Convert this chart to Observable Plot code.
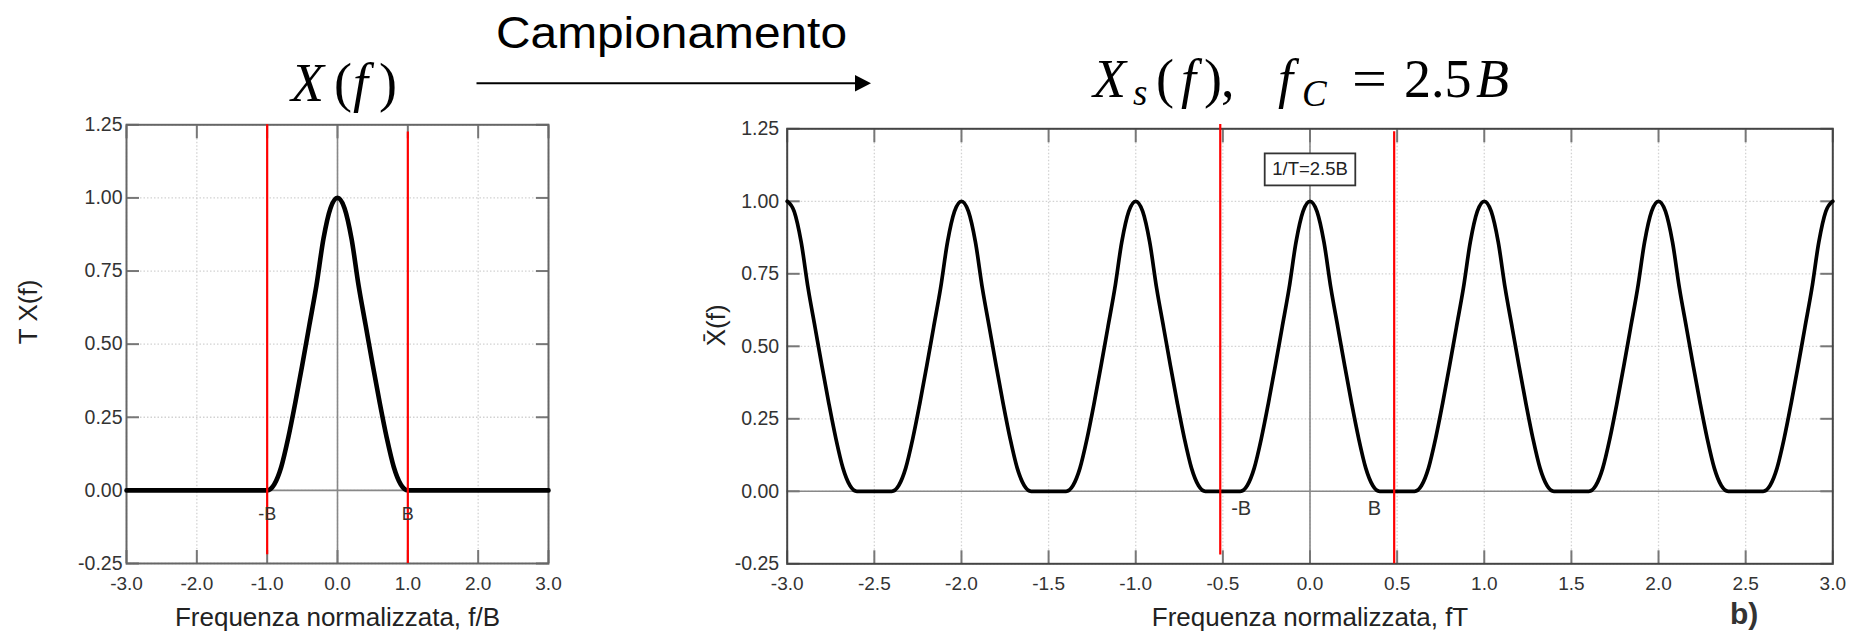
<!DOCTYPE html>
<html>
<head>
<meta charset="utf-8">
<script src="https://cdn.jsdelivr.net/npm/d3@7"></script>
<script src="https://cdn.jsdelivr.net/npm/@observablehq/plot@0.6"></script>
<style>
  html, body { margin: 0; padding: 0; background: #fff; }
  #page { position: relative; width: 1861px; height: 637px; overflow: hidden; background: #fff; }
  #page > svg { position: absolute; top: 0; }
</style>
</head>
<body>
<div id="page"></div>
<script>
// ---------- data ----------
const xTicksLeft  = [-3, -2, -1, 0, 1, 2, 3];
const xTicksRight = [-3, -2.5, -2, -1.5, -1, -0.5, 0, 0.5, 1, 1.5, 2, 2.5, 3];
const yTicks      = [-0.25, 0, 0.25, 0.5, 0.75, 1, 1.25];

// Half profile of one spectral pulse: distance from its peak (units of B) and amplitude
const pulseOffset = [0, 0.1, 0.2, 0.3, 0.4, 0.5, 0.6, 0.7, 0.8, 0.9, 1.0];
const pulseValue  = [1.0, 0.965, 0.86, 0.70, 0.565, 0.43, 0.30, 0.18, 0.08, 0.02, 0];

// Ends of the baseband frequency axis (f/B), where the spectrum is zero
const baseEnds = [-3, 3];

// Sampling: 1/T = 2.5 B, replicas centred on the multiples of 1/T (fT units)
const samplingRate   = 2.5;
const replicaCenters = [-3, -2, -1, 0, 1, 2, 3];

// Red band-edge markers: position, vertical extent, label and label anchor
const leftEdges = [
  {x: -1, top: 1.25,  bottom: -0.22, label: "-B", lx: -1, ly: -0.08},
  {x:  1, top: 1.225, bottom: -0.25, label: "B",  lx:  1, ly: -0.08}
];
const rightEdges = [
  {x: -0.515, top: 1.265, bottom: -0.22, label: "-B", lx: -0.395, ly: -0.06},
  {x:  0.483, top: 1.24,  bottom: -0.25, label: "B",  lx:  0.37,  ly: -0.06}
];
const rateNote = [{x: 0, y: 1.11, text: "1/T=2.5B"}];

const xTitleLeft  = "Frequenza normalizzata, f/B";
const xTitleRight = "Frequenza normalizzata, fT";
const yTitleLeft  = "T X(f)";
const yTitleRight = "X\u0304(f)";

// ---------- derived series ----------
const halfPulse = pulseOffset.map((u, i) => ({u, v: pulseValue[i]}));
const fullPulse = [
  ...halfPulse.slice(1).reverse().map(d => ({u: -d.u, v: d.v})),
  ...halfPulse
];
const leftSeries = [
  {x: baseEnds[0], y: 0},
  ...fullPulse.map(d => ({x: d.u, y: d.v})),
  {x: baseEnds[1], y: 0}
].sort((a, b) => a.x - b.x);

const halfWidth = 1 / samplingRate; // B expressed in fT
const rightSeries = replicaCenters
  .flatMap(c => fullPulse.map(d => ({x: c + d.u * halfWidth, y: d.v})))
  .filter(d => d.x >= -3 - 1e-9 && d.x <= 3 + 1e-9)
  .sort((a, b) => a.x - b.x);

// ---------- shared styling ----------
const SANS = "'Liberation Sans', Arial, Helvetica, sans-serif";
const fmt1 = d => d.toFixed(1);
const fmt2 = d => d.toFixed(2);
const gridStyle = {stroke: "#d2d2d2", strokeOpacity: 1, strokeWidth: 1.3, strokeDasharray: "1.5,2"};
const tickStyle = {tickSize: -13, tickFormat: () => "", label: null, stroke: "#777", strokeWidth: 2};

// Draws a framed box behind each label of a text mark
function boxed(fontSize, padX, boxH) {
  return function (index, scales, values, dimensions, context, next) {
    const g = next(index, scales, values, dimensions, context);
    const ctx = document.createElement("canvas").getContext("2d");
    ctx.font = `${fontSize}px ${SANS}`;
    for (const i of index) {
      const w = ctx.measureText(values.text ? values.text[i] : rateNote[i].text).width;
      const X = values.x[i], Y = values.y[i];
      const r = document.createElementNS("http://www.w3.org/2000/svg", "rect");
      r.setAttribute("x", X - w / 2 - padX);
      r.setAttribute("y", Y - boxH / 2);
      r.setAttribute("width", w + 2 * padX);
      r.setAttribute("height", boxH);
      r.setAttribute("fill", "#fff");
      r.setAttribute("stroke", "#333");
      r.setAttribute("stroke-width", 1.8);
      g.insertBefore(r, g.firstChild);
    }
    return g;
  };
}

function panel({width, margins, xTicks, series, lineWidth, edges, edgeFont, yPad, xTitle, yTitle, yTitleDx, frameColor, extra = []}) {
  return Plot.plot({
    width, height: 637,
    marginLeft: margins[0], marginRight: margins[1], marginTop: margins[2], marginBottom: margins[3],
    x: {domain: [-3, 3]},
    y: {domain: [-0.25, 1.25]},
    style: {fontFamily: SANS, fontSize: "19px", background: "transparent", overflow: "visible", color: "#222"},
    marks: [
      Plot.gridX(xTicks, gridStyle),
      Plot.gridY(yTicks, gridStyle),
      Plot.ruleY([0], {stroke: "#888", strokeWidth: 1.6}),
      Plot.ruleX([0], {stroke: "#888", strokeWidth: 1.6}),
      Plot.axisX(xTicks, {anchor: "bottom", ...tickStyle}),
      Plot.axisX(xTicks, {anchor: "top", ...tickStyle}),
      Plot.axisY(yTicks, {anchor: "left", ...tickStyle}),
      Plot.axisY(yTicks, {anchor: "right", ...tickStyle}),
      Plot.axisX(xTicks, {anchor: "bottom", tickSize: 0, tickPadding: 13, tickFormat: fmt1, label: null, fontSize: 19, fill: "#333"}),
      Plot.axisY(yTicks, {anchor: "left", tickSize: 0, tickPadding: yPad, tickFormat: fmt2, label: null, fontSize: 19.5, fill: "#333"}),
      Plot.frame({stroke: frameColor, strokeWidth: 2}),
      Plot.line(series, {x: "x", y: "y", curve: "monotone-x", stroke: "#000", strokeWidth: lineWidth, strokeLinejoin: "round"}),
      Plot.ruleX(edges, {x: "x", y1: "bottom", y2: "top", stroke: "#ff0000", strokeWidth: 2.2}),
      Plot.text(edges, {x: "lx", y: "ly", text: "label", fontSize: edgeFont, fill: "#333"}),
      ...extra,
      Plot.text([xTitle], {frameAnchor: "bottom", dy: 62, fontSize: 26, fill: "#222"}),
      Plot.text([yTitle], {frameAnchor: "left", rotate: -90, dx: yTitleDx, fontSize: 26, fill: "#222"})
    ]
  });
}

const page = document.getElementById("page");

const left = panel({
  width: 600, margins: [126, 52, 124.3, 74],
  xTicks: xTicksLeft, series: leftSeries, lineWidth: 4.6,
  edges: leftEdges, edgeFont: 18, yPad: 4,
  xTitle: xTitleLeft, yTitle: yTitleLeft, yTitleDx: -98, frameColor: "#666"
});
left.style.left = "0px";
page.appendChild(left);

const right = panel({
  width: 1221, margins: [146.7, 28.7, 128.3, 73.7],
  xTicks: xTicksRight, series: rightSeries, lineWidth: 3.7,
  edges: rightEdges, edgeFont: 20, yPad: 8,
  xTitle: xTitleRight, yTitle: yTitleRight, yTitleDx: -71, frameColor: "#444",
  extra: [
    Plot.text(rateNote, {x: "x", y: "y", text: "text", fontSize: 18.5, fill: "#222", render: boxed(18.5, 7.5, 32)})
  ]
});
right.style.left = "640px";
page.appendChild(right);

// ---------- headings: math titles and the sampling arrow ----------
const header = d3.create("svg")
  .attr("width", 1861).attr("height", 637)
  .style("position", "absolute").style("left", "0px").style("top", "0px")
  .style("pointer-events", "none");

const SERIF = "'Liberation Serif', 'Times New Roman', serif";
function glyph(s, x, y, size, italic, len) {
  const t = header.append("text")
    .attr("x", x).attr("y", y)
    .attr("font-family", SERIF).attr("font-size", size)
    .attr("font-style", italic ? "italic" : "normal")
    .attr("fill", "#000")
    .text(s);
  if (len) t.attr("textLength", len).attr("lengthAdjust", "spacingAndGlyphs");
}

// X(f)
glyph("X", 291, 101, 54, true);
glyph("(", 334, 101, 54, false);
glyph("f", 353, 101, 54, true);
glyph(")", 379, 101, 54, false);

// X_s(f),  f_C = 2.5 B
glyph("X", 1093, 97, 54, true);
glyph("s", 1133, 105, 37, true);
glyph("(", 1156, 97, 54, false);
glyph("f", 1181, 97, 54, true);
glyph(")", 1204, 97, 54, false);
glyph(",", 1221, 97, 54, false);
glyph("f", 1278, 97, 54, true);
glyph("C", 1302, 106, 37, true);
glyph("=", 1352, 97, 54, false, 35);
glyph("2.5", 1404, 97, 54, false);
glyph("B", 1476, 97, 54, true);

header.append("text")
  .attr("x", 496).attr("y", 48)
  .attr("font-family", SANS).attr("font-size", 45)
  .attr("textLength", 351).attr("lengthAdjust", "spacingAndGlyphs")
  .attr("fill", "#000")
  .text("Campionamento");

header.append("line")
  .attr("x1", 476.5).attr("y1", 83.3).attr("x2", 858).attr("y2", 83.3)
  .attr("stroke", "#000").attr("stroke-width", 2);
header.append("path")
  .attr("d", "M855,75 L871,83.3 L855,91.6 Z")
  .attr("fill", "#000");

header.append("text")
  .attr("x", 1730).attr("y", 624)
  .attr("font-family", SANS).attr("font-size", 30).attr("font-weight", "bold")
  .attr("fill", "#333")
  .text("b)");

page.appendChild(header.node());
</script>
</body>
</html>
